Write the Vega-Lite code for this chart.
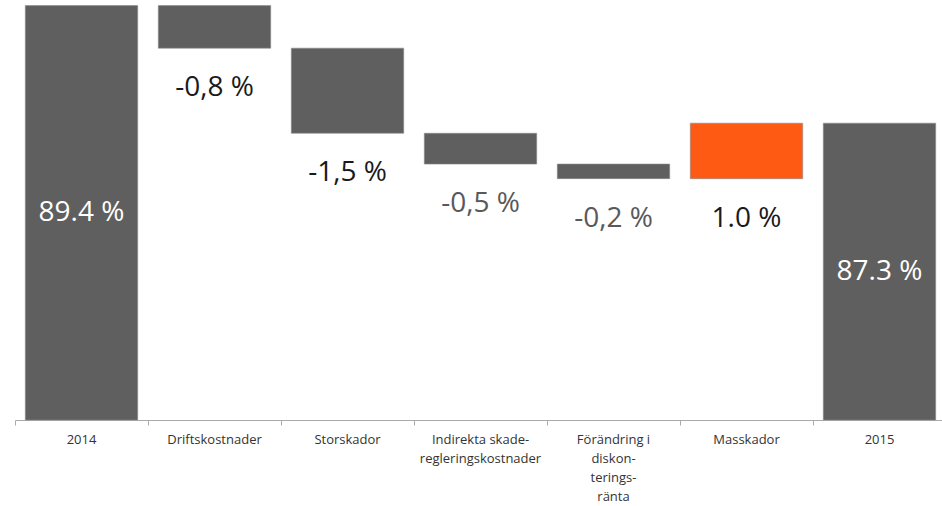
{
  "$schema": "https://vega.github.io/schema/vega-lite/v6.json",
  "width": 931,
  "height": 420,
  "autosize": {"type": "none"},
  "padding": {"left": 15, "top": 0, "right": 0, "bottom": 86},
  "background": "white",
  "config": {"view": {"stroke": null}, "font": "Open Sans"},
  "data": {
    "values": [
      {"category": "2014", "lo": 82, "hi": 89.4, "label": "89.4 %", "kind": "total", "color": "#5f5f5f", "textColor": "#ffffff"},
      {"category": "Driftskostnader", "lo": 88.64, "hi": 89.4, "label": "-0,8 %", "kind": "step", "color": "#5f5f5f", "textColor": "#1a1a1a"},
      {"category": "Storskador", "lo": 87.12, "hi": 88.64, "label": "-1,5 %", "kind": "step", "color": "#5f5f5f", "textColor": "#1a1a1a"},
      {"category": "Indirekta skade-|regleringskostnader", "lo": 86.57, "hi": 87.12, "label": "-0,5 %", "kind": "step", "color": "#5f5f5f", "textColor": "#595959"},
      {"category": "Förändring i|diskon-|terings-|ränta", "lo": 86.31, "hi": 86.57, "label": "-0,2 %", "kind": "step", "color": "#5f5f5f", "textColor": "#595959"},
      {"category": "Masskador", "lo": 86.31, "hi": 87.3, "label": "1.0 %", "kind": "step", "color": "#ff5a14", "textColor": "#1a1a1a"},
      {"category": "2015", "lo": 82, "hi": 87.3, "label": "87.3 %", "kind": "total", "color": "#5f5f5f", "textColor": "#ffffff"}
    ]
  },
  "encoding": {
    "x": {
      "field": "category",
      "type": "nominal",
      "sort": null,
      "scale": {"paddingInner": 0, "paddingOuter": 0},
      "axis": {
        "title": null,
        "labelAngle": 0,
        "labelExpr": "split(datum.value, '|')",
        "labelFont": "Open Sans",
        "labelFontSize": 13,
        "labelColor": "#333333",
        "labelLineHeight": 19,
        "labelPadding": 8,
        "labelBaseline": "top",
        "bandPosition": 0,
        "domainColor": "#aaaaaa",
        "tickColor": "#aaaaaa",
        "tickSize": 5,
        "grid": false
      }
    }
  },
  "layer": [
    {
      "mark": {"type": "bar", "width": {"band": 0.845}, "stroke": "#8a8a8a", "strokeWidth": 0.6},
      "encoding": {
        "y": {"field": "lo", "type": "quantitative", "scale": {"domain": [82, 89.5], "zero": false, "nice": false}, "axis": null},
        "y2": {"field": "hi"},
        "color": {"field": "color", "type": "nominal", "scale": null}
      }
    },
    {
      "transform": [{"filter": "datum.kind == 'step'"}],
      "mark": {"type": "text", "dy": 40, "baseline": "middle", "align": "center", "fontSize": 28, "font": "Open Sans"},
      "encoding": {
        "y": {"field": "lo", "type": "quantitative"},
        "text": {"field": "label"},
        "color": {"field": "textColor", "type": "nominal", "scale": null}
      }
    },
    {
      "transform": [
        {"filter": "datum.kind == 'total'"},
        {"calculate": "(datum.lo + datum.hi) / 2", "as": "mid"}
      ],
      "mark": {"type": "text", "baseline": "middle", "align": "center", "fontSize": 28, "font": "Open Sans"},
      "encoding": {
        "y": {"field": "mid", "type": "quantitative"},
        "text": {"field": "label"},
        "color": {"field": "textColor", "type": "nominal", "scale": null}
      }
    }
  ]
}
